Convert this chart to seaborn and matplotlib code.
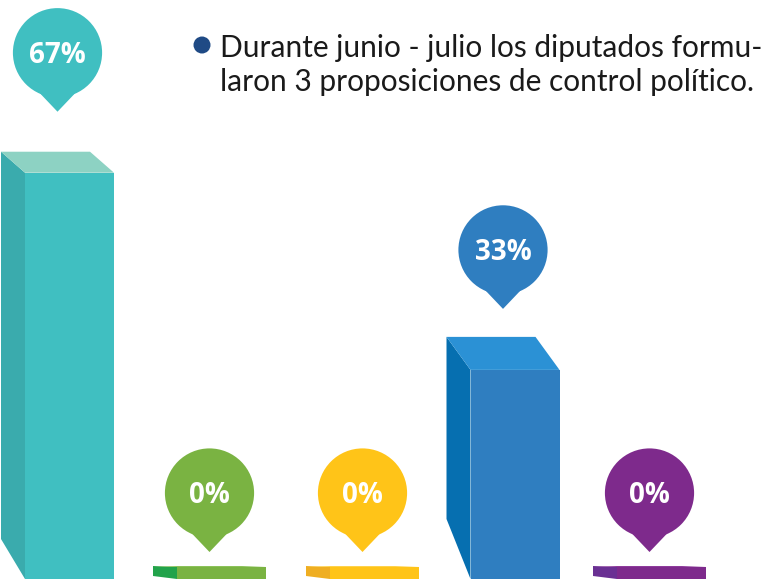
import matplotlib
matplotlib.use('Agg')
import matplotlib.pyplot as plt
from matplotlib.patches import Polygon, Ellipse
import numpy as np
import seaborn as sns

# datos del grafico
valores = [66.67, 0, 0, 33.33, 0]
etiquetas = ['67%', '0%', '0%', '33%', '0%']
nota = ['Durante junio - julio los diputados formu-',
        'laron 3 proposiciones de control político.']

# colores de cada barra: frente, lado y tapa
col_frente = ['#40BFC1', '#7AB342', '#FFC418', '#2F7EC0', '#7E2A8C']
col_lado = ['#3AABAD', '#22A34B', '#EFAE22', '#066FB0', '#6A3093']
col_tapa = ['#8DD2C3', '#8CC25A', '#FFD24A', '#2B91D5', '#8E3C9C']

# disposicion en pixeles
W, H = 781, 579
centros = [69.5, 221.5, 374.5, 515, 661.5]
ancho = 89
prof_x = 24
prof_sup = [21, 1, 1, 33, 1]
prof_inf = [40, 3, 3, 60, 3]
base_px = 12
k = 5.914  # pixeles por punto porcentual

sns.set_theme(style='white')
fig = plt.figure(figsize=(W / 100, H / 100), dpi=100)
ax = fig.add_axes([0, 0, 1, 1])

# frente de las barras
alturas = [v + base_px / k for v in valores]
sns.barplot(x=centros, y=alturas, native_scale=True,
            width=ancho / np.min(np.diff(centros)),
            errorbar=None, linewidth=0, ax=ax, zorder=3)
ax.set_xlim(0, W)
ax.set_ylim(0, H / k)
ax.axis('off')

# caras laterales, tapas y marcadores
for i, p in enumerate(sorted(ax.patches, key=lambda b: b.get_x())):
    x0 = p.get_x()
    x1 = x0 + p.get_width()
    h = p.get_height()
    p.set_facecolor(col_frente[i])
    ds = prof_sup[i] / k
    di = prof_inf[i] / k
    ax.add_patch(Polygon([(x0 - prof_x, h + ds), (x0, h), (x0, 0), (x0 - prof_x, di)],
                         closed=True, fc=col_lado[i], lw=0, zorder=2))
    ax.add_patch(Polygon([(x0 - prof_x, h + ds), (x1 - prof_x, h + ds), (x1, h), (x0, h)],
                         closed=True, fc=col_tapa[i], lw=0, zorder=2))

    # pin con el porcentaje
    cx = (x0 - prof_x + x1) / 2
    punta = h + (61 if valores[i] > 0 else 15) / k
    cy = punta + 59 / k
    r = 44.6
    ax.add_patch(Ellipse((cx, cy), 2 * r, 2 * r / k, fc=col_frente[i], lw=0, zorder=5))
    ax.add_patch(Polygon([(cx - 20, cy - 38 / k), (cx + 20, cy - 38 / k), (cx, punta)],
                         closed=True, fc=col_frente[i], lw=0, zorder=5))
    ax.text(cx, cy - 10 / k, etiquetas[i], color='white', fontsize=20,
            fontweight='bold', family='Open Sans', ha='center', va='baseline', zorder=6)

# nota superior con vineta
ax.add_patch(Ellipse((202, (H - 45) / k), 17, 17 / k, fc='#1F4A85', lw=0, zorder=5))
fig.text(220 / W, 1 - 57 / H, nota[0], fontsize=21.5, family='Lato',
         color='#1a1a1a', ha='left', va='baseline')
fig.text(220 / W, 1 - 91 / H, nota[1], fontsize=21.5, family='Lato',
         color='#1a1a1a', ha='left', va='baseline')

fig.savefig('out.png', dpi=100)
